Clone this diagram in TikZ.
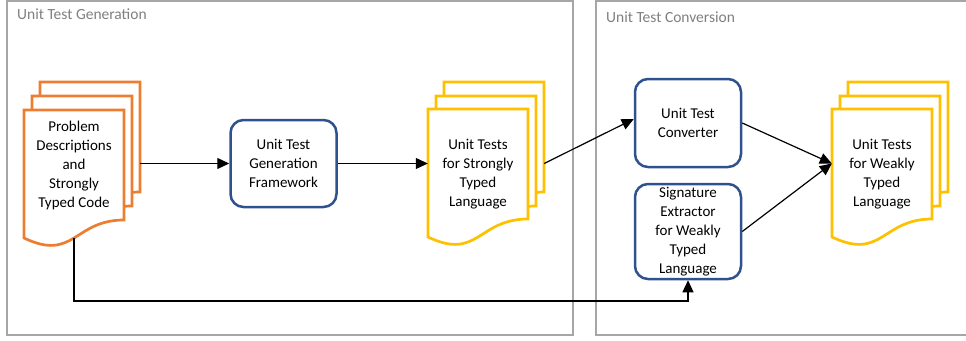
\documentclass[tikz,border=0pt]{standalone}
\usepackage{fontspec}
\setmainfont{Carlito}
\usetikzlibrary{arrows.meta,fit}
\definecolor{grp}{HTML}{A6A6A6}
\definecolor{grptxt}{HTML}{7F7F7F}
\definecolor{orng}{HTML}{ED7D31}
\definecolor{yell}{HTML}{FFC000}
\definecolor{blu}{HTML}{2F528F}
\tikzset{
  grpbox/.style={draw=grp,line width=2pt},
  grptitle/.style={anchor=west,text=grptxt,font=\fontsize{15.5}{17}\selectfont,inner sep=0pt},
  procbox/.style={draw=blu,line width=2.5pt,rounded corners=13pt,minimum width=106pt,align=center,
     font=\fontsize{15}{19}\selectfont,inner sep=0pt},
  doctext/.style={align=center,font=\fontsize{15}{19}\selectfont,inner sep=0pt},
  conn/.style={line width=1.2pt,-{Triangle[length=12pt,width=11pt]}},
  pics/docpage/.style={code={
    \draw[fill=white,line width=2.7pt,line join=miter] (0,0) -- (100,0) -- (100,110)
      .. controls (50,110) and (50,152) .. (0,128) -- cycle;}}
}
\begin{document}
\begin{tikzpicture}[x=1pt,y=-1pt]
\useasboundingbox (0,0) rectangle (966,340);
\begin{scope}
\clip (0,0) rectangle (966,340);
% groups
\node[grpbox,inner sep=0pt,fit={(7,1)(573,335)}] (g1) {};
\node[grpbox,inner sep=0pt,fit={(596,1)(975,335)}] (g2) {};
\end{scope}
\node[grptitle] (t1) at (17,14) {Unit Test Generation};
\node[grptitle] (t2) at (606,17) {Unit Test Conversion};

% orange stack
\pic[draw=orng] at (40,82) {docpage};
\pic[draw=orng] at (32,96) {docpage};
\pic[draw=orng] at (24,110) {docpage};
\node[inner sep=0pt,fit={(24,82)(140,238)}] (pdstack) {};
\node[doctext] (pd) at (74,165) {Problem\\Descriptions\\and\\Strongly\\Typed Code};

% yellow stack 1
\pic[draw=yell] at (444,82) {docpage};
\pic[draw=yell] at (436,96) {docpage};
\pic[draw=yell] at (428,109) {docpage};
\node[inner sep=0pt,fit={(428,82)(544,237)}] (ut1stack) {};
\node[doctext] (ut1) at (478,174.5) {Unit Tests\\for Strongly\\Typed\\Language};

% yellow stack 2
\pic[draw=yell] at (848,82) {docpage};
\pic[draw=yell] at (840,96) {docpage};
\pic[draw=yell] at (832,109) {docpage};
\node[inner sep=0pt,fit={(832,82)(948,237)}] (ut2stack) {};
\node[doctext] (ut2) at (882,174.5) {Unit Tests\\for Weakly\\Typed\\Language};

% process boxes
\node[procbox,minimum height=87pt] (gen) at (283.5,163.5) {Unit Test\\Generation\\Framework};
\node[procbox,minimum height=88pt] (conv) at (688,123) {Unit Test\\Converter};
\node[procbox,minimum height=95pt] (sig) at (688,231.5) {Signature\\Extractor\\for Weakly\\Typed\\Language};

% connectors
\coordinate (pdout) at (pdstack.east |- gen.west);
\draw[conn] (pdout) -- (gen.west);
\coordinate (ut1in) at (ut1stack.west |- gen.east);
\draw[conn] (gen.east) -- (ut1in);
\coordinate (ut1out) at (ut1stack.east |- gen.east);
\draw[conn] (ut1out) -- ([yshift=4pt]conv.west);
\coordinate (ut2in) at (ut2stack.west |- ut1out);
\draw[conn] (conv.east) -- (ut2in);
\draw[conn] (sig.east) -- (ut2in);
\coordinate (pdbot) at (pd.center |- pdstack.south);
\draw[conn] (pdbot) -- (74,301) -| (sig.south);
\end{tikzpicture}
\end{document}
